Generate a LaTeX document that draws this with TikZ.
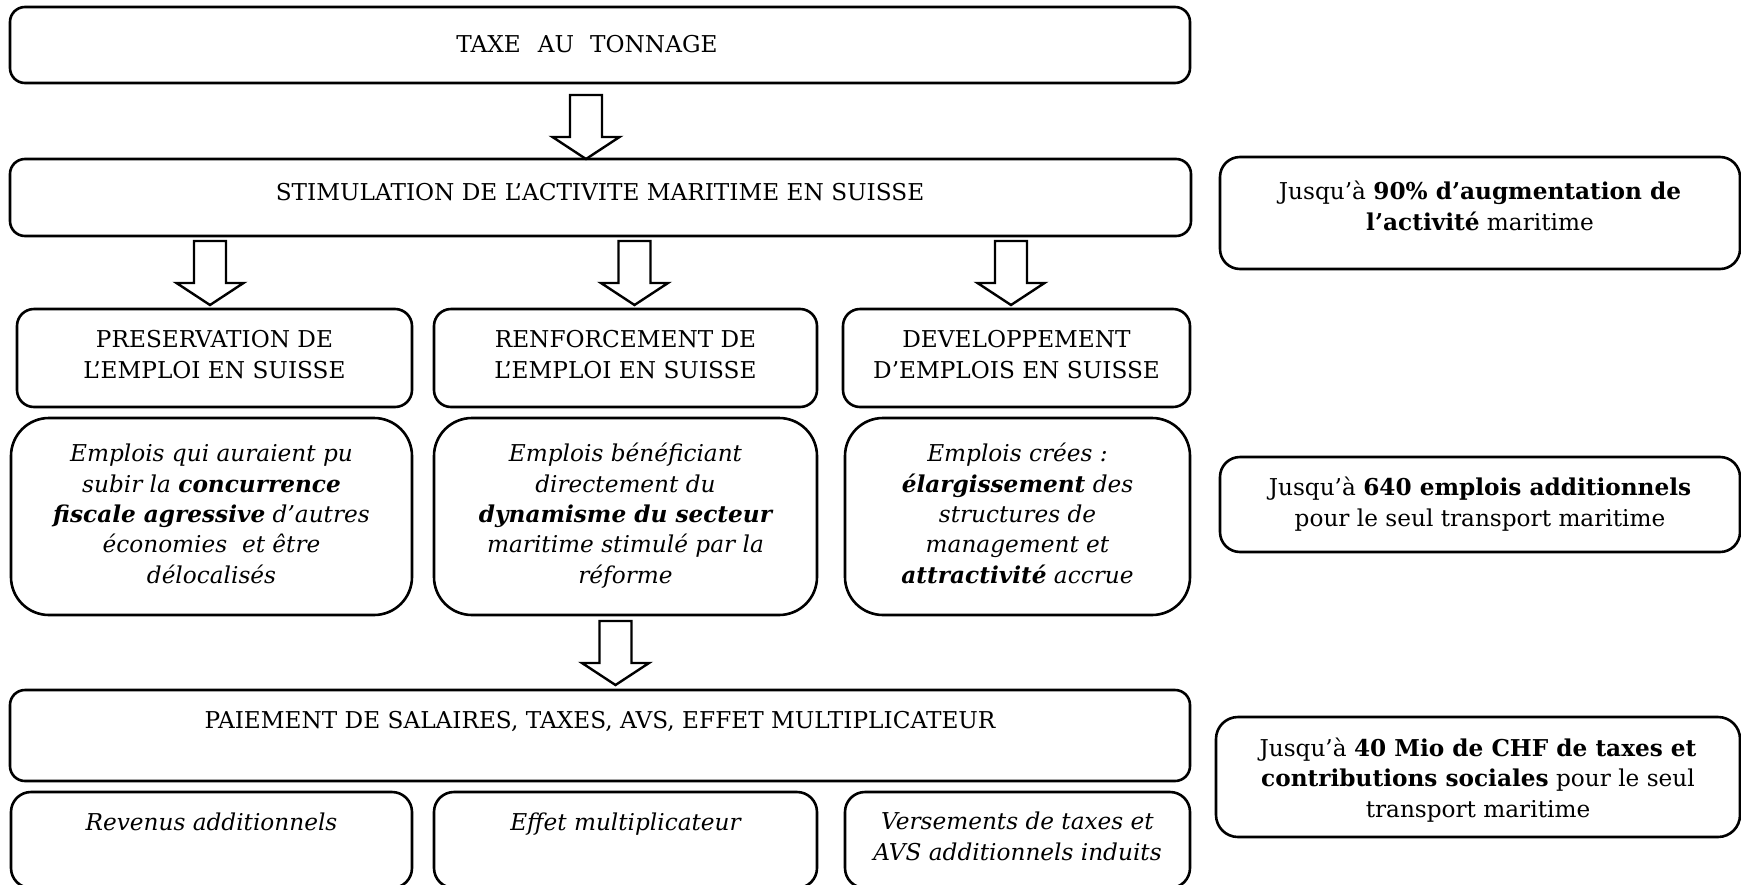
\documentclass[tikz,border=0pt]{standalone}
\usepackage{fontspec}
\setmainfont{DejaVu Serif}
\tikzset{
  box/.style={draw, line width=2.6pt, fill=white, inner sep=0pt, rounded corners=#1},
  box/.default=15pt,
  txt/.style={inner sep=0pt, align=center, anchor=base, font=\fontsize{23.2pt}{30.3pt}\selectfont},
  itxt/.style={txt, font=\fontsize{23.2pt}{30.3pt}\selectfont\itshape},
  arrowline/.style={draw, line width=2.4pt, fill=white, line join=miter},
  downarrow/.pic={\draw[arrowline] (-16,0) -- (-16,42) -- (-33.5,42) -- (0,64) -- (33.5,42) -- (16,42) -- (16,0) -- cycle;}
}
\begin{document}
\begin{tikzpicture}[x=1pt,y=-1pt]
\useasboundingbox (0,0) rectangle (1741,884);
% boxes
\node[box=15pt, minimum width=1180pt, minimum height=76pt] (taxe) at (600,45) {};
\node[box=15pt, minimum width=1181pt, minimum height=77pt] (stim) at (600.5,197.5) {};
\node[box=20pt, minimum width=520pt, minimum height=112pt] (r1) at (1480,213) {};
\node[box=17pt, minimum width=395pt, minimum height=98pt] (p1) at (214.5,358) {};
\node[box=17pt, minimum width=383pt, minimum height=98pt] (p2) at (625.5,358) {};
\node[box=17pt, minimum width=347pt, minimum height=98pt] (p3) at (1016.5,358) {};
\node[box=38pt, minimum width=401pt, minimum height=197pt] (e1) at (211.5,516.5) {};
\node[box=38pt, minimum width=383pt, minimum height=197pt] (e2) at (625.5,516.5) {};
\node[box=38pt, minimum width=345pt, minimum height=197pt] (e3) at (1017.5,516.5) {};
\node[box=20pt, minimum width=520pt, minimum height=95pt] (r2) at (1480,504.5) {};
\node[box=15pt, minimum width=1180pt, minimum height=91pt] (pay) at (600,735.5) {};
\node[box=22pt, minimum width=524pt, minimum height=120pt] (r3) at (1478,777) {};
\node[box=20pt, minimum width=401pt, minimum height=96pt] (v1) at (211.5,840) {};
\node[box=20pt, minimum width=383pt, minimum height=96pt] (v2) at (625.5,840) {};
\node[box=20pt, minimum width=345pt, minimum height=96pt] (v3) at (1017.5,840) {};
% arrows
\pic at (586,95) {downarrow};
\pic at (210,241) {downarrow};
\pic at (634.5,241) {downarrow};
\pic at (1011,241) {downarrow};
\pic at (615.5,621) {downarrow};
% texts (base = baseline of last line)
\node[txt] (taxe-t) at (587,52) {TAXE\hspace{17pt}AU\hspace{16pt}TONNAGE};
\node[txt] (stim-t) at (600,200) {STIMULATION DE L’ACTIVITE MARITIME EN SUISSE};
\node[txt] (r1-t) at (1480,230) {Jusqu’à \textbf{90\% d’augmentation de}\\\textbf{l’activité} maritime};
\node[txt] (p1-t) at (214.5,378) {PRESERVATION DE\\L’EMPLOI EN SUISSE};
\node[txt] (p2-t) at (625.5,378) {RENFORCEMENT DE\\L’EMPLOI EN SUISSE};
\node[txt] (p3-t) at (1016.5,378) {DEVELOPPEMENT\\D’EMPLOIS EN SUISSE};
\node[itxt] (e1-t) at (211.5,583) {Emplois qui auraient pu\\subir la \textbf{concurrence}\\\textbf{fiscale agressive} d’autres\\économies\ \ et être\\délocalisés};
\node[itxt] (e2-t) at (625.5,583) {Emplois bénéficiant\\directement du\\\textbf{dynamisme du secteur}\\maritime stimulé par la\\réforme};
\node[itxt] (e3-t) at (1017.5,583) {Emplois crées :\\\textbf{élargissement} des\\structures de\\management et\\\textbf{attractivité} accrue};
\node[txt] (r2-t) at (1480,526) {Jusqu’à \textbf{640 emplois additionnels}\\pour le seul transport maritime};
\node[txt] (pay-t) at (600,728) {PAIEMENT DE SALAIRES, TAXES, AVS, EFFET MULTIPLICATEUR};
\node[txt] (r3-t) at (1478,817) {Jusqu’à \textbf{40 Mio de CHF de taxes et}\\\textbf{contributions sociales} pour le seul\\transport maritime};
\node[itxt] (v1-t) at (211.5,830) {Revenus additionnels};
\node[itxt] (v2-t) at (625.5,830) {Effet multiplicateur};
\node[itxt] (v3-t) at (1017.5,860) {Versements de taxes et\\AVS additionnels induits};
\end{tikzpicture}
\end{document}
